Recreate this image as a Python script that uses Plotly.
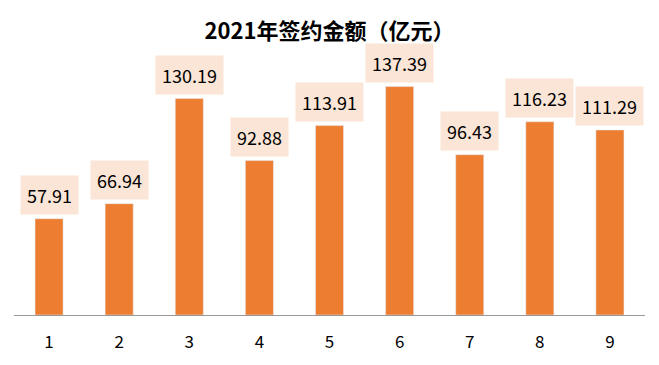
import plotly.graph_objects as go

categories = ["1", "2", "3", "4", "5", "6", "7", "8", "9"]
values = [57.91, 66.94, 130.19, 92.88, 113.91, 137.39, 96.43, 116.23, 111.29]

fig = go.Figure()
fig.add_trace(go.Bar(
    x=categories, y=values, marker_color="#ED7D31", width=0.4,
    hoverinfo="x+y",
))

for i, v in enumerate(values):
    fig.add_annotation(
        x=i, y=v, text=f"{v:.2f}", showarrow=False, yanchor="bottom",
        yshift=4, bgcolor="#FBE5D6", borderpad=6,
        font=dict(family="Noto Sans CJK SC, Noto Sans, sans-serif", size=18, color="#000000"),
    )

fig.update_layout(
    width=659, height=365,
    margin=dict(l=14, r=14, t=49, b=47),
    paper_bgcolor="white", plot_bgcolor="white",
    title=dict(text="<b>2021年签约金额（亿元）</b>", x=0.5, xanchor="center", y=0.915, yanchor="middle",
               font=dict(family="Noto Sans CJK SC, sans-serif", size=22, color="#000000")),
    showlegend=False,
    bargap=0.6,
)
fig.update_xaxes(type="category", showline=True, linecolor="#999999", linewidth=1, ticks="",
                 ticklabelstandoff=12,
                 tickfont=dict(family="Noto Sans CJK SC, Noto Sans, sans-serif", size=17, color="#000000"),
                 showgrid=False)
fig.update_yaxes(range=[0, 160], visible=False, showgrid=False, zeroline=False)

fig.write_html("out.html")
